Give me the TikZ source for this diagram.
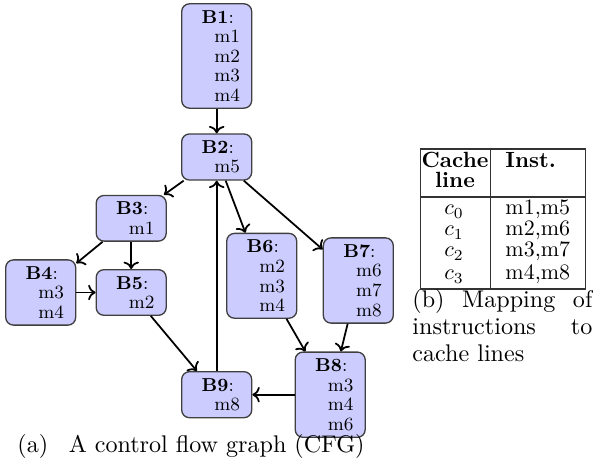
\documentclass[tikz,border=0pt]{standalone}
\usetikzlibrary{arrows.meta}
\newcommand{\blkhead}[1]{\makebox[21.2pt][l]{\hspace{3.8pt}\textbf{#1}:}}
\begin{document}
\begin{tikzpicture}[x=0.4545pt,y=-0.4545pt,
  blk/.style={draw=black!75, fill=blue!20, rounded corners=3.5pt, line width=0.6pt,
    font=\fontsize{8.5}{8.9}\selectfont, align=right, text width=21.2pt,
    inner xsep=5.3pt, inner ysep=3pt},
  edge/.style={->, thick},
  tbl/.style={draw=black!80, line width=0.6pt},
  ttxt/.style={font=\fontsize{10}{12}\selectfont, inner sep=0pt},
  captxt/.style={font=\fontsize{10.95}{13.6}\selectfont, inner sep=0pt, anchor=base west}]
\useasboundingbox (0,0) rectangle (593,469);
% blocks
\node[blk] (B1) at (216.7,56) {\blkhead{B1}\\m1\\m2\\m3\\m4};
\node[blk] (B2) at (216.7,157) {\blkhead{B2}\\m5};
\node[blk] (B3) at (131.2,218.3) {\blkhead{B3}\\m1};
\node[blk] (B4) at (40.7,292.5) {\blkhead{B4}\\m3\\m4};
\node[blk] (B5) at (131.2,292.5) {\blkhead{B5}\\m2};
\node[blk] (B6) at (261.7,275.8) {\blkhead{B6}\\m2\\m3\\m4};
\node[blk] (B7) at (358.3,280.5) {\blkhead{B7}\\m6\\m7\\m8};
\node[blk] (B8) at (330.2,394.7) {\blkhead{B8}\\m3\\m4\\m6};
\node[blk] (B9) at (216.7,394.7) {\blkhead{B9}\\m8};
% edges
\draw[edge] (B1) -- (B2);
\draw[edge] (B2) -- (B3);
\draw[edge] (B2) -- (B6);
\draw[edge] (B2) -- (B7);
\draw[edge] (B3) -- (B4);
\draw[edge] (B3) -- (B5);
\draw[edge] (B4) -- (B5);
\draw[edge] (B5) -- (B9);
\draw[edge] (B9) -- (B2);
\draw[edge] (B6) -- (B8);
\draw[edge] (B7) -- (B8);
\draw[edge] (B8) -- (B9);
% caption (a)
\node[captxt] (capa1) at (17,453) {(a)};
\node[captxt, anchor=base east] (capa2) at (365,453) {A control flow graph (CFG)};
% table
\draw[tbl] (420.5,149) rectangle (585.5,289);
\draw[tbl] (490.7,149) -- (490.7,289);
\draw[tbl, line width=0.9pt] (420.5,197) -- (585.5,197);
\node[ttxt, anchor=base] (h1) at (455,168) {\textbf{Cache}};
\node[ttxt, anchor=base] (h2) at (455,188) {\textbf{line}};
\node[ttxt, anchor=base west] (h3) at (505,168) {\textbf{Inst.}};
\node[ttxt, anchor=base] (c0) at (454,215) {$c_0$};
\node[ttxt, anchor=base] (c1) at (454,236) {$c_1$};
\node[ttxt, anchor=base] (c2) at (454,257) {$c_2$};
\node[ttxt, anchor=base] (c3) at (454,280) {$c_3$};
\node[ttxt, anchor=base west] (i0) at (505,215) {m1,m5};
\node[ttxt, anchor=base west] (i1) at (505,236) {m2,m6};
\node[ttxt, anchor=base west] (i2) at (505,257) {m3,m7};
\node[ttxt, anchor=base west] (i3) at (505,280) {m4,m8};
% caption (b)
\node[captxt] (capb1) at (412,308) {\makebox[81.8pt][s]{(b)\ Mapping of}};
\node[captxt] (capb2) at (412,335) {\makebox[81.8pt][s]{instructions to}};
\node[captxt] (capb3) at (412,362) {cache lines};
\end{tikzpicture}
\end{document}
